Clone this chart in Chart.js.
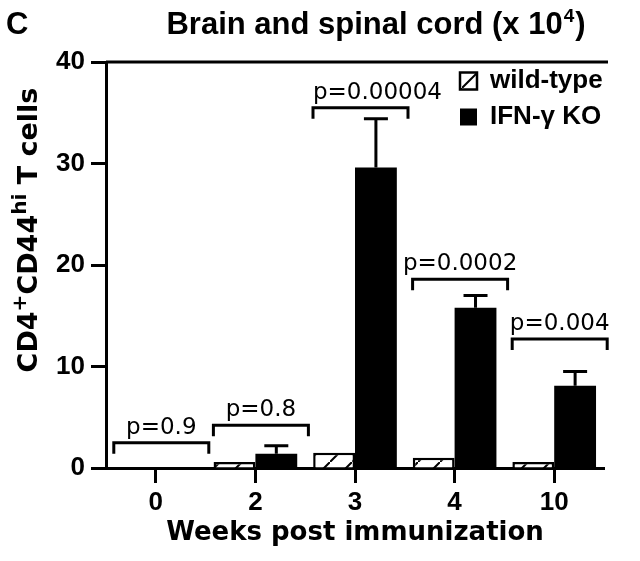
<!DOCTYPE html>
<html><head><meta charset="utf-8">
<script src="https://cdn.jsdelivr.net/npm/chart.js@4.4.1/dist/chart.umd.min.js"></script>
<style>html,body{margin:0;padding:0;background:#fff;}#wrap{width:640px;height:561px;position:relative;}</style>
</head><body><div id="wrap"><canvas id="c" width="640" height="561"></canvas></div>
<script>
// ---- data ----
const categories = ['0', '2', '3', '4', '10'];
const seriesNames = ['wild-type', 'IFN-\u03b3 KO'];
const wildType = [0, 0.6, 1.5, 1.0, 0.6];
const ifngKO = [0, 1.4, 29.6, 15.8, 8.1];
const ifngKOErr = [0, 0.8, 4.8, 1.2, 1.4];
const pLabels = ['p=0.9', 'p=0.8', 'p=0.00004', 'p=0.0002', 'p=0.004'];
const bracketLevels = [2.5, 4.2, 35.5, 18.6, 12.7];
const yTicks = [0, 10, 20, 30, 40];
const chartTitle = 'Brain and spinal cord (x 10';
const chartTitleSup = '4';
const panelLetter = 'C';
const xTitle = 'Weeks post immunization';
const yTitleParts = [['CD4', 0], ['+', 1], ['CD44', 0], ['hi', 1], [' T cells', 0]];

// ---- styling ----
const canvas = document.getElementById('c');
const ctx0 = canvas.getContext('2d');
function makeHatch() {
  const s = 22, cv = document.createElement('canvas');
  cv.width = s; cv.height = s;
  const g = cv.getContext('2d');
  g.fillStyle = '#fff'; g.fillRect(0, 0, s, s);
  g.strokeStyle = '#000'; g.lineWidth = 2;
  g.beginPath(); g.moveTo(-2, s + 2); g.lineTo(s + 2, -2); g.stroke();
  return ctx0.createPattern(cv, 'repeat');
}
const hatch = makeHatch();
const SANS = '"Liberation Sans", Arial, sans-serif';
const DEJA = '"DejaVu Sans", sans-serif';

const extras = {
  id: 'extras',
  afterLayout(chart) {
    if (chart.legend) {
      chart.legend.left = 450;
      chart.legend.top = chart.chartArea.top - 4;
    }
  },
  afterDatasetsDraw(chart) {
    const {ctx, scales: {x, y}, chartArea} = chart;
    ctx.save();
    ctx.strokeStyle = '#000'; ctx.fillStyle = '#000'; ctx.lineWidth = 3;
    // top frame line
    const yt = y.getPixelForValue(yTicks[yTicks.length - 1]);
    ctx.beginPath(); ctx.moveTo(chartArea.left, yt); ctx.lineTo(chartArea.right + 4, yt); ctx.stroke();
    // error bars (upper) for KO
    const meta = chart.getDatasetMeta(1);
    meta.data.forEach((el, i) => {
      if (!ifngKOErr[i]) return;
      const top = y.getPixelForValue(ifngKO[i] + ifngKOErr[i]);
      ctx.beginPath();
      ctx.moveTo(el.x, el.y); ctx.lineTo(el.x, top);
      ctx.moveTo(el.x - 12, top); ctx.lineTo(el.x + 12, top);
      ctx.stroke();
    });
    // p-value brackets
    categories.forEach((c, i) => {
      const cx = x.getPixelForValue(i);
      const by = y.getPixelForValue(bracketLevels[i]);
      const x0 = cx - 42, x1 = cx + 53;
      ctx.beginPath();
      ctx.moveTo(x0, by + 11); ctx.lineTo(x0, by); ctx.lineTo(x1, by); ctx.lineTo(x1, by + 11);
      ctx.stroke();
      ctx.font = '23px ' + DEJA;
      ctx.textBaseline = 'alphabetic';
      const tw = ctx.measureText(pLabels[i]).width;
      if (tw - (x1 - x0) > 25) {
        ctx.textAlign = 'left';
        ctx.fillText(pLabels[i], x0, by - 9);
      } else {
        ctx.textAlign = 'center';
        ctx.fillText(pLabels[i], (x0 + x1) / 2, by - 9);
      }
    });
    ctx.restore();
  },
  afterDraw(chart) {
    const ctx = chart.ctx;
    ctx.save();
    ctx.fillStyle = '#000';
    ctx.textBaseline = 'alphabetic';
    // panel letter
    ctx.font = 'bold 31px ' + SANS; ctx.textAlign = 'left';
    ctx.fillText(panelLetter, 6, 34);
    // title with superscript
    const f1 = 'bold 31px ' + SANS, f2 = 'bold 19px ' + SANS;
    ctx.font = f1; const w1 = ctx.measureText(chartTitle).width; const w3 = ctx.measureText(')').width;
    ctx.font = f2; const w2 = ctx.measureText(chartTitleSup).width + 2;
    let tx = 376 - (w1 + w2 + w3) / 2;
    ctx.font = f1; ctx.fillText(chartTitle, tx, 34); tx += w1 + 1;
    ctx.font = f2; ctx.fillText(chartTitleSup, tx, 22); tx += w2 - 1;
    ctx.font = f1; ctx.fillText(')', tx, 34);
    // y title (rotated, with superscripts)
    ctx.translate(37, 230); ctx.rotate(-Math.PI / 2);
    const parts = yTitleParts.map(([t, sup]) => {
      const font = sup ? 'bold 20px ' + DEJA : 'bold 27px ' + DEJA;
      ctx.font = font;
      return {t, font, dy: sup ? -11 : 0, w: ctx.measureText(t).width};
    });
    const total = parts.reduce((a, p) => a + p.w, 0);
    let px = -total / 2;
    parts.forEach(p => { ctx.font = p.font; ctx.fillText(p.t, px, p.dy); px += p.w; });
    ctx.restore();
  }
};

new Chart(canvas, {
  type: 'bar',
  data: {
    labels: categories,
    datasets: [
      {label: seriesNames[0], data: wildType, backgroundColor: hatch, borderColor: '#000', borderWidth: 2.5,
       categoryPercentage: 0.84, barPercentage: 1.0},
      {label: seriesNames[1], data: ifngKO, backgroundColor: '#000', borderColor: '#000', borderWidth: 0,
       categoryPercentage: 0.84, barPercentage: 1.0}
    ]
  },
  options: {
    responsive: false, animation: false, devicePixelRatio: 1,
    layout: {padding: {left: 0, right: 36, top: 62, bottom: 0}},
    scales: {
      x: {
        grid: {display: true, drawOnChartArea: false, offset: false, tickLength: 15, tickWidth: 3, tickColor: '#000'},
        border: {display: true, width: 3, color: '#000'},
        ticks: {color: '#000', font: {family: SANS, size: 26, weight: 'bold'}, padding: 4},
        title: {display: true, text: xTitle, color: '#000', font: {family: DEJA, size: 26, weight: 'bold'}, padding: {top: 0, bottom: 12}},
        afterFit(s) { s.height = 93; }
      },
      y: {
        min: yTicks[0], max: yTicks[yTicks.length - 1],
        afterBuildTicks(s) { s.ticks = yTicks.map(v => ({value: v})); },
        grid: {drawOnChartArea: false, tickLength: 15, tickWidth: 3, tickColor: '#000'},
        border: {display: true, width: 3, color: '#000'},
        ticks: {color: '#000', font: {family: SANS, size: 26, weight: 'bold'}, padding: 6},
        afterFit(s) { s.width = 106; }
      }
    },
    plugins: {
      legend: {
        position: 'chartArea', align: 'start',
        labels: {boxWidth: 17, boxHeight: 17, padding: 10, color: '#000', font: {family: SANS, size: 26, weight: 'bold'}}
      },
      tooltip: {enabled: false},
      title: {display: false}
    }
  },
  plugins: [extras]
});
</script>
</body></html>
